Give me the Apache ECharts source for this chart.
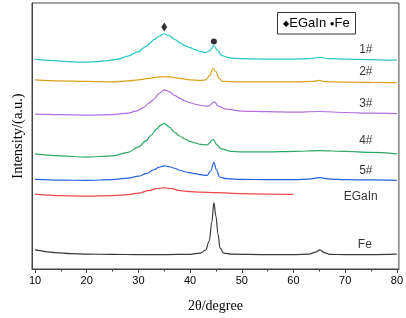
<!DOCTYPE html>
<html>
<head>
<meta charset="utf-8">
<script src="https://cdn.jsdelivr.net/npm/echarts@6/dist/echarts.min.js"></script>
<style>
  html, body { margin: 0; padding: 0; background: #fff; }
  #chart { width: 406px; height: 318px; }
</style>
</head>
<body>
<div id="chart"></div>
<script>
// XRD patterns, 2theta (degree) vs intensity (a.u., stacked offsets as plotted)
const s1x = [10, 12, 15, 18, 20, 22, 24, 26, 28, 30, 31.5, 32, 33, 34, 35, 36, 37, 38, 39, 40, 41, 42, 43, 43.8, 44.6, 45.3, 46, 47, 48, 50, 55, 60, 63, 65, 67, 70, 75, 78, 80];
const s1y = [211.5, 210.5, 209.5, 208.5, 208.5, 209, 210, 211.5, 214.5, 219, 224.3, 226.5, 231, 234.5, 237, 235, 231.5, 228, 225, 223, 221, 219, 218, 220, 225, 220.5, 215.5, 213.5, 212.5, 212, 211.5, 211.5, 212, 213.2, 212, 211.5, 211, 210.5, 210.5];

const s2x = [10, 15, 20, 25, 28, 30, 32, 34, 35, 36, 38, 40, 42, 43, 43.8, 44.4, 45, 45.6, 46.3, 50, 55, 60, 64, 65, 66, 70, 75, 80];
const s2y = [190.5, 189.5, 189, 188.5, 189.5, 190.5, 192, 193.5, 193.7, 193.5, 192, 190.5, 190, 190.5, 195, 202, 199, 192, 189, 188.5, 188.5, 188.5, 189, 190, 188.7, 188.2, 188, 187.7];

const s3x = [10, 15, 20, 25, 28, 29.5, 31, 32, 33, 34, 35, 36, 37, 38, 39, 40, 41, 42, 43.5, 44.7, 45.5, 47, 50, 55, 60, 65, 70, 75, 80];
const s3y = [156, 155.5, 155, 155.5, 157, 159, 162.5, 167, 171, 177, 180.5, 178.5, 175, 172, 169.5, 167.5, 166, 165, 164, 168.3, 164, 161, 159, 158.5, 158, 158.7, 157.7, 157, 156.5];

const s4x = [10, 15, 20, 25, 28, 30, 31.5, 32.5, 33.5, 34.3, 35, 36, 37, 38, 39, 40, 41, 42, 43.2, 44.5, 45.2, 46, 48, 50, 55, 60, 65, 70, 75, 80];
const s4y = [116, 114, 112.7, 114, 117.5, 123, 129.3, 135, 141, 145, 146.7, 143, 138, 134, 131, 128.5, 127, 125.5, 125, 130.3, 125, 121, 118.5, 118, 118, 118.5, 119.3, 118.5, 117.5, 116];

const s5x = [10, 15, 20, 25, 28, 30, 31.5, 33, 34, 35, 36, 37, 38, 39, 40, 41, 42, 43.3, 44, 44.6, 45.1, 45.7, 47, 50, 55, 60, 63, 65, 67, 70, 75, 80];
const s5y = [90.3, 89.5, 89.3, 90, 91.5, 93.5, 96, 100, 102.5, 104, 103, 101.5, 99.5, 98, 97, 96, 95, 94.3, 99, 107.5, 100, 92.7, 91, 90.3, 90, 90, 90.5, 92, 90.5, 90, 89.7, 89.3];

const egaInX = [10, 15, 20, 25, 28, 30, 32, 33.5, 35, 36.5, 38, 40, 42, 45, 50, 55, 60];
const egaInY = [75.5, 74, 73.5, 74, 75, 76.5, 79, 81, 81.7, 81, 79, 78, 77.5, 77, 76, 75.5, 75.2];

const feX = [10, 11, 12, 14, 17, 20, 25, 30, 35, 40, 42, 43, 43.7, 44.2, 44.6, 45, 45.4, 45.8, 46.5, 48, 55, 60, 63, 64.3, 65.1, 66, 67, 70, 75, 80];
const feY = [19.5, 18.5, 17.5, 16.5, 15.5, 15, 14.7, 14.5, 14.5, 14.8, 16, 19, 28, 47, 67, 53, 35, 21, 16, 15, 14.5, 14.5, 15, 17, 19.3, 16.5, 14.7, 14.5, 14.5, 15];

const curveNames = ['1#', '2#', '3#', '4#', '5#', 'EGaIn', 'Fe'];
const curveLabelX = [74, 74, 74, 74, 74, 73, 73.8];
const curveLabelY = [221, 198.7, 167, 129.3, 99.3, 72.7, 24.3];

// peak markers: EGaIn (diamond) and Fe (dot)
const diamondMark = [35, 243.7];
const dotMark = [44.6, 229.3];

const majorTicks = [10, 20, 30, 40, 50, 60, 70, 80];
const minorTicks = [15, 25, 35, 45, 55, 65, 75];

const colors = ['#26c6c9', '#d9a21b', '#b070e0', '#2fa866', '#2262e0', '#f04848', '#3a3a3a'];

function pairs(xs, ys) {
    return xs.map(function (x, i) { return [x, ys[i]]; });
}

const curves = [
    pairs(s1x, s1y), pairs(s2x, s2y), pairs(s3x, s3y), pairs(s4x, s4y),
    pairs(s5x, s5y), pairs(egaInX, egaInY), pairs(feX, feY)
];

const chart = echarts.init(document.getElementById('chart'));

const series = curves.map(function (d, i) {
    return {
        name: curveNames[i],
        type: 'line',
        data: d,
        showSymbol: false,
        smooth: 0.35,
        smoothMonotone: 'x',
        lineStyle: { color: colors[i], width: 1.2 },
        silent: true
    };
});

series.push({
    type: 'scatter',
    data: curveNames.map(function (n, i) {
        return { name: n, value: [curveLabelX[i], curveLabelY[i]] };
    }),
    symbolSize: 0,
    label: {
        show: true,
        position: 'inside',
        formatter: '{b}',
        color: '#000',
        fontFamily: 'Liberation Sans',
        fontSize: 12
    }
});

series.push({
    type: 'scatter',
    data: [diamondMark],
    symbol: 'diamond',
    symbolSize: [6, 9],
    itemStyle: { color: '#000' }
});
series.push({
    type: 'scatter',
    data: [dotMark],
    symbol: 'circle',
    symbolSize: 6,
    itemStyle: { color: '#000' }
});

const option = {
    animation: false,
    grid: {
        left: 32, right: 6, top: 3, bottom: 47,
        show: true,
        borderColor: '#444',
        borderWidth: 1
    },
    xAxis: [
        {
            type: 'value',
            min: 9.42,
            max: 80.39,
            name: '2θ/degree',
            nameLocation: 'middle',
            nameGap: 30,
            nameTextStyle: { fontFamily: 'Liberation Serif', fontSize: 14, color: '#000' },
            axisLine: { lineStyle: { color: '#444' } },
            axisTick: { customValues: majorTicks, length: 4, lineStyle: { color: '#444' } },
            axisLabel: { customValues: majorTicks, fontFamily: 'Liberation Sans', fontSize: 11, color: '#000', margin: 6 },
            splitLine: { show: false }
        },
        {
            type: 'value',
            min: 9.42,
            max: 80.39,
            position: 'bottom',
            axisLine: { show: false },
            axisTick: { customValues: minorTicks, length: 2.5, lineStyle: { color: '#444' } },
            axisLabel: { show: false },
            splitLine: { show: false }
        }
    ],
    yAxis: {
        type: 'value',
        min: 0,
        max: 268,
        name: 'Intensity/(a.u.)',
        nameLocation: 'middle',
        nameGap: 6,
        nameTextStyle: { fontFamily: 'Liberation Serif', fontSize: 14.5, color: '#000' },
        axisLine: { show: true, lineStyle: { color: '#444' } },
        axisTick: { show: false },
        axisLabel: { show: false },
        splitLine: { show: false }
    },
    graphic: [
        {
            type: 'rect',
            shape: { x: 277.5, y: 12.5, width: 78, height: 21.5 },
            style: { fill: '#fff', stroke: '#333', lineWidth: 1 }
        },
        {
            type: 'text',
            x: 316.5,
            y: 23.5,
            style: {
                text: '{s|◆}EGaIn {s|●}Fe',
                align: 'center',
                verticalAlign: 'middle',
                fontFamily: 'Liberation Sans',
                fontSize: 13,
                fill: '#000',
                rich: { s: { fontSize: 8, fill: '#000' } }
            }
        }
    ],
    series: series
};

chart.setOption(option);
</script>
</body>
</html>
